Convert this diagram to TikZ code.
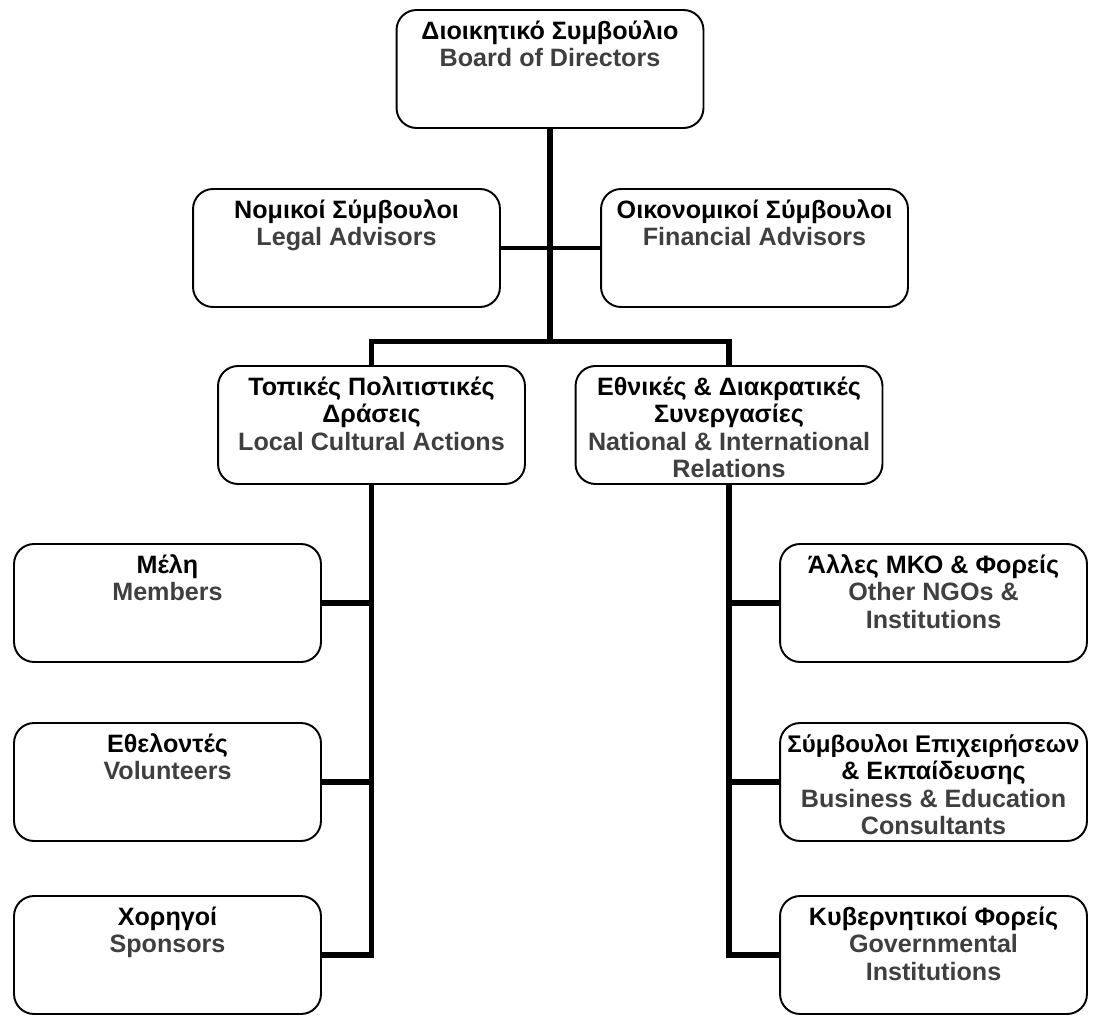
\documentclass[tikz,border=0pt]{standalone}
\usepackage{fontspec}
\setmainfont{Liberation Sans}
\usepackage{xcolor}
\usepackage{tikz}
\definecolor{engray}{HTML}{3F3F3F}
\newcommand{\orgtext}[2]{\parbox[c][2.36cm][t]{6cm}{\centering
\fontsize{14.3}{15.65}\selectfont\bfseries\rule{0pt}{5.85mm}\color{black}#1\\
\color{engray}#2}}

\begin{document}
\begin{tikzpicture}[x=0.02cm,y=-0.02cm,every node/.style={outer sep=0pt}]
\tikzstyle{unit}=[draw,line width=1.1pt,rounded corners=0.4cm,inner sep=0pt,
minimum width=6.14cm,minimum height=2.36cm]
\tikzstyle{link}=[line width=3.2pt]
\tikzstyle{advlink}=[line width=2.3pt]
\useasboundingbox (0,0) rectangle (1094,1016);
\node (board) [unit] at (550,69) {\orgtext{Διοικητικό Συμβούλιο}{Board of Directors}};
\node (legal) [unit] at (346.5,248) {\orgtext{Νομικοί Σύμβουλοι}{Legal Advisors}};
\node (fin) [unit] at (754.5,248) {\orgtext{Οικονομικοί Σύμβουλοι}{Financial Advisors}};
\node (local) [unit] at (371.5,425) {\orgtext{Τοπικές Πολιτιστικές\\Δράσεις}{Local Cultural Actions}};
\node (natl) [unit] at (729,425) {\orgtext{Εθνικές \& Διακρατικές\\Συνεργασίες}{National \& International\\Relations}};
\node (members) [unit] at (167.5,603) {\orgtext{Μέλη}{Members}};
\node (volunt) [unit] at (167.5,782) {\orgtext{Εθελοντές}{Volunteers}};
\node (sponsors) [unit] at (167.5,955) {\orgtext{Χορηγοί}{Sponsors}};
\node (ngos) [unit] at (933.5,603) {\orgtext{Άλλες ΜΚΟ \& Φορείς}{Other NGOs \&\\Institutions}};
\node (business) [unit] at (933.5,782) {\orgtext{\makebox[\linewidth]{\fontsize{13.7}{15.65}\selectfont Σύμβουλοι Επιχειρήσεων}\\\& Εκπαίδευσης}{Business \& Education\\Consultants}};
\node (govt) [unit] at (933.5,955) {\orgtext{Κυβερνητικοί Φορείς}{Governmental\\Institutions}};
\coordinate (split) at (550,341.5);
\draw [advlink] (legal.east) -- (fin.west);
\draw [link] (board.south) -- (split);
\draw [link] (split) -| (local.north);
\draw [link] (split) -| (natl.north);
\foreach \n in {members,volunt,sponsors} \draw [link] (\n.east) -| (local.south);
\foreach \n in {ngos,business,govt} \draw [link] (\n.west) -| (natl.south);
\end{tikzpicture}
\end{document}
